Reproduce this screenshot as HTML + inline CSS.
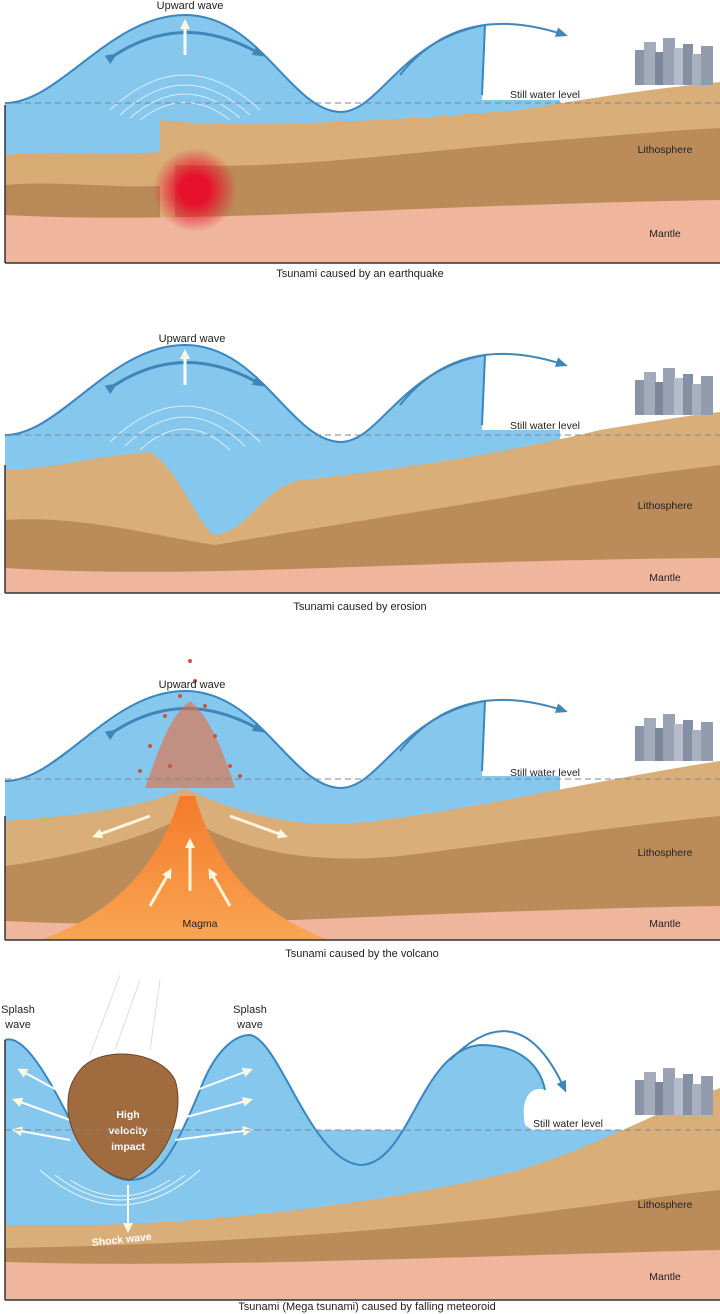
<!DOCTYPE html>
<html><head><meta charset="utf-8"><style>
html,body{margin:0;padding:0;background:#fff;}
svg{display:block;}
text{font-family:"Liberation Sans",sans-serif;}
</style></head><body>
<svg width="720" height="1314" viewBox="0 0 720 1314" xmlns="http://www.w3.org/2000/svg">
<defs>
<marker id="ah" markerUnits="userSpaceOnUse" markerWidth="12" markerHeight="12" refX="9" refY="6" orient="auto"><path d="M0,1 L12,6 L0,11 z" fill="#3f86b8"/></marker>
<marker id="wh" markerUnits="userSpaceOnUse" markerWidth="10" markerHeight="10" refX="7" refY="5" orient="auto"><path d="M0,0 L10,5 L0,10 z" fill="#fff8e0"/></marker>
<radialGradient id="quake"><stop offset="0" stop-color="#e8112b"/><stop offset="0.35" stop-color="#e8112b"/><stop offset="1" stop-color="#e8112b" stop-opacity="0"/></radialGradient>
<linearGradient id="lava" x1="0" y1="0" x2="0" y2="1"><stop offset="0" stop-color="#f47b2a"/><stop offset="1" stop-color="#f9a553"/></linearGradient>
<g id="city">
<rect x="0" y="12" width="10" height="35" fill="#8a94a8"/><rect x="9" y="4" width="12" height="43" fill="#a4acbc"/><rect x="20" y="14" width="9" height="33" fill="#7d879b"/><rect x="28" y="0" width="12" height="47" fill="#9aa3b4"/><rect x="39" y="10" width="10" height="37" fill="#b6bccb"/><rect x="48" y="6" width="10" height="41" fill="#8690a4"/><rect x="57" y="16" width="10" height="31" fill="#a9b0c0"/><rect x="66" y="8" width="12" height="39" fill="#939cae"/>
</g>
</defs>

<!-- PANEL 1 -->
<g>
<path d="M5,103 C60,103 110,15 185,15 C260,15 290,110 340,112 C380,112 400,40 485,25 L482,100 L560,100 L560,240 L5,240 Z" fill="#86c7ee"/>
<path d="M5,103 C60,103 110,15 185,15 C260,15 290,110 340,112 C380,112 400,40 485,25 L482,95" fill="none" stroke="#3a86c0" stroke-width="2"/>
<path d="M115,55 Q185,10 262,55" fill="none" stroke="#3f86b8" stroke-width="3" marker-start="url(#ah)" marker-end="url(#ah)"/>
<path d="M400,75 Q460,0 565,35" fill="none" stroke="#3f86b8" stroke-width="2" marker-end="url(#ah)"/>
<g fill="none" stroke="#fff" stroke-opacity="0.7"><path d="M110,110 Q185,40 260,110"/><path d="M120,115 Q185,55 250,115"/><path d="M130,118 Q185,70 240,118"/><path d="M140,120 Q185,85 230,120"/></g>
<path d="M185,55 L185,22" stroke="#fff" stroke-width="3" marker-end="url(#wh)"/>
<path d="M5,155 C60,150 120,158 175,150 L175,235 L5,235 Z" fill="#d8ab75"/>
<path d="M5,185 C60,180 120,190 175,185 L175,240 L5,240 Z" fill="#b98957"/>
<path d="M160,120 C240,130 400,120 520,110 C580,100 640,90 720,82 L720,220 L160,225 Z" fill="#d9ae79"/>
<path d="M175,165 C300,170 420,150 560,140 C620,135 680,130 720,128 L720,210 L175,220 Z" fill="#bb8b59"/>
<path d="M5,215 C200,225 400,205 720,200 L720,263 L5,263 Z" fill="#efb59d"/>
<circle cx="195" cy="190" r="42" fill="url(#quake)"/>
<line x1="5" y1="103" x2="720" y2="103" stroke="#7b8793" stroke-dasharray="6,4"/>
<use href="#city" x="635" y="38"/>
<path d="M5,263 L5,105 M5,263 L720,263" stroke="#333" stroke-width="1.5" fill="none"/>
<text x="190" y="9" font-size="11" text-anchor="middle" fill="#222">Upward wave</text>
<text x="545" y="98" font-size="10.5" text-anchor="middle" fill="#222">Still water level</text>
<text x="665" y="153" font-size="10.5" text-anchor="middle" fill="#222">Lithosphere</text>
<text x="665" y="237" font-size="10.5" text-anchor="middle" fill="#222">Mantle</text>
<text x="360" y="277" font-size="11" text-anchor="middle" fill="#222">Tsunami caused by an earthquake</text>
</g>

<!-- PANEL 2 -->
<g transform="translate(0,330)">
<path d="M5,105 C60,105 110,15 185,15 C260,15 290,110 340,112 C380,112 400,40 485,25 L482,100 L560,100 L560,240 L5,240 Z" fill="#86c7ee"/>
<path d="M5,105 C60,105 110,15 185,15 C260,15 290,110 340,112 C380,112 400,40 485,25 L482,95" fill="none" stroke="#3a86c0" stroke-width="2"/>
<path d="M115,55 Q185,10 262,55" fill="none" stroke="#3f86b8" stroke-width="3" marker-start="url(#ah)" marker-end="url(#ah)"/>
<path d="M400,75 Q460,0 565,35" fill="none" stroke="#3f86b8" stroke-width="2" marker-end="url(#ah)"/>
<g fill="none" stroke="#fff" stroke-opacity="0.7"><path d="M110,112 Q185,40 260,112"/><path d="M125,116 Q185,58 245,116"/><path d="M140,120 Q185,78 230,120"/></g>
<path d="M185,55 L185,22" stroke="#fff" stroke-width="3" marker-end="url(#wh)"/>
<path d="M5,140 C60,138 100,125 150,122 C180,140 200,200 215,205 C250,200 260,160 300,150 C400,140 520,120 600,100 C650,92 690,85 720,82 L720,263 L5,263 Z" fill="#d9ae79"/>
<path d="M5,190 C80,185 150,205 215,215 C300,200 400,185 520,165 C600,150 680,140 720,135 L720,263 L5,263 Z" fill="#bb8b59"/>
<path d="M5,238 C200,250 400,230 720,228 L720,263 L5,263 Z" fill="#efb59d"/>
<line x1="5" y1="105" x2="720" y2="105" stroke="#7b8793" stroke-dasharray="6,4"/>
<use href="#city" x="635" y="38"/>
<path d="M5,263 L5,135 M5,263 L720,263" stroke="#333" stroke-width="1.5" fill="none"/>
<text x="192" y="12" font-size="11" text-anchor="middle" fill="#222">Upward wave</text>
<text x="545" y="99" font-size="10.5" text-anchor="middle" fill="#222">Still water level</text>
<text x="665" y="179" font-size="10.5" text-anchor="middle" fill="#222">Lithosphere</text>
<text x="665" y="251" font-size="10.5" text-anchor="middle" fill="#222">Mantle</text>
<text x="360" y="280" font-size="11" text-anchor="middle" fill="#222">Tsunami caused by erosion</text>
</g>

<!-- PANEL 3 -->
<g transform="translate(0,676)">
<path d="M5,105 C60,105 110,15 185,15 C260,15 290,110 340,112 C380,112 400,40 485,25 L482,100 L560,100 L560,200 L5,200 Z" fill="#86c7ee"/>
<path d="M5,105 C60,105 110,15 185,15 C260,15 290,110 340,112 C380,112 400,40 485,25 L482,95" fill="none" stroke="#3a86c0" stroke-width="2"/>
<path d="M115,55 Q185,10 262,55" fill="none" stroke="#3f86b8" stroke-width="3" marker-start="url(#ah)" marker-end="url(#ah)"/>
<path d="M400,75 Q460,0 565,35" fill="none" stroke="#3f86b8" stroke-width="2" marker-end="url(#ah)"/>
<path d="M5,145 C80,140 150,130 185,112 C220,130 280,150 340,148 C450,140 560,110 720,85 L720,264 L5,264 Z" fill="#d9ae79"/>
<path d="M5,190 C80,180 150,160 185,140 C230,170 300,190 400,180 C520,165 620,150 720,140 L720,264 L5,264 Z" fill="#bb8b59"/>
<path d="M5,245 C200,255 400,235 720,230 L720,264 L5,264 Z" fill="#efb59d"/>
<path d="M40,264 C110,240 160,190 180,120 L195,120 C215,190 260,240 330,264 Z" fill="url(#lava)"/>
<path d="M145,112 C160,70 170,40 190,25 C210,40 225,80 235,112 Z" fill="#eb6a3c" opacity="0.6"/>
<g fill="#c9553a"><circle cx="165" cy="40" r="2"/><circle cx="205" cy="30" r="2"/><circle cx="180" cy="20" r="2"/><circle cx="215" cy="60" r="2"/><circle cx="150" cy="70" r="2"/><circle cx="230" cy="90" r="2"/><circle cx="170" cy="90" r="2"/><circle cx="195" cy="5" r="2"/><circle cx="190" cy="-15" r="2"/><circle cx="140" cy="95" r="2"/><circle cx="240" cy="100" r="2"/></g>
<g stroke="#fff4d8" stroke-width="3" marker-end="url(#wh)"><path d="M190,215 L190,165"/><path d="M150,230 L170,195"/><path d="M230,230 L210,195"/><path d="M150,140 L95,160"/><path d="M230,140 L285,160"/></g>
<line x1="5" y1="103" x2="720" y2="103" stroke="#7b8793" stroke-dasharray="6,4"/>
<use href="#city" x="635" y="38"/>
<path d="M5,264 L5,140 M5,264 L720,264" stroke="#333" stroke-width="1.5" fill="none"/>
<text x="192" y="12" font-size="11" text-anchor="middle" fill="#222">Upward wave</text>
<text x="545" y="100" font-size="10.5" text-anchor="middle" fill="#222">Still water level</text>
<text x="665" y="180" font-size="10.5" text-anchor="middle" fill="#222">Lithosphere</text>
<text x="665" y="251" font-size="10.5" text-anchor="middle" fill="#222">Mantle</text>
<text x="200" y="251" font-size="10.5" text-anchor="middle" fill="#222">Magma</text>
<text x="362" y="281" font-size="11" text-anchor="middle" fill="#222">Tsunami caused by the volcano</text>
</g>

<!-- PANEL 4 -->
<g>
<path d="M5,1130 L5,1240 L720,1240 L720,1130 Z" fill="#86c7ee"/>
<path d="M5,1040 C20,1035 40,1060 70,1120 C95,1165 110,1180 130,1180 C160,1180 175,1150 200,1090 C215,1050 235,1035 250,1035 C280,1040 310,1160 360,1165 C410,1165 420,1050 480,1045 C520,1045 540,1065 545,1090 C530,1085 520,1100 525,1125 L540,1135 L540,1150 L5,1220 Z" fill="#86c7ee"/>
<path d="M5,1040 C20,1035 40,1060 70,1120 C95,1165 110,1180 130,1180 C160,1180 175,1150 200,1090 C215,1050 235,1035 250,1035 C280,1040 310,1160 360,1165 C410,1165 420,1050 480,1045 C520,1045 540,1065 545,1090" fill="none" stroke="#3a86c0" stroke-width="2"/>
<path d="M450,1060 Q520,990 565,1090" fill="none" stroke="#3f86b8" stroke-width="2" marker-end="url(#ah)"/>
<path d="M5,1225 C200,1230 400,1200 520,1170 C600,1145 660,1110 720,1088 L720,1300 L5,1300 Z" fill="#d9ae79"/>
<path d="M5,1248 C200,1245 400,1230 520,1215 C600,1205 670,1195 720,1190 L720,1300 L5,1300 Z" fill="#bb8b59"/>
<path d="M5,1262 C200,1268 400,1258 720,1250 L720,1300 L5,1300 Z" fill="#efb59d"/>
<g fill="none" stroke="#fff" stroke-opacity="0.85"><path d="M40,1170 Q120,1240 200,1170"/><path d="M55,1175 Q120,1225 185,1175"/><path d="M70,1180 Q120,1212 170,1180"/></g>
<g stroke="#fff" stroke-width="2" marker-end="url(#wh)"><path d="M70,1120 L15,1100"/><path d="M70,1140 L15,1130"/><path d="M75,1100 L20,1070"/><path d="M175,1120 L250,1100"/><path d="M175,1140 L250,1130"/><path d="M170,1100 L250,1070"/><path d="M128,1185 L128,1230"/></g>
<g stroke="#ddd" fill="none"><path d="M90,1055 L120,975"/><path d="M115,1050 L140,980"/><path d="M150,1050 L160,980"/></g>
<path d="M80,1070 C100,1045 160,1050 175,1080 C185,1110 170,1160 130,1180 C95,1175 70,1140 68,1110 C67,1090 72,1080 80,1070 Z" fill="#a06b3f" stroke="#6d4424"/>
<text x="128" y="1118" font-size="10.5" font-weight="bold" text-anchor="middle" fill="#fff">High</text>
<text x="128" y="1134" font-size="10.5" font-weight="bold" text-anchor="middle" fill="#fff">velocity</text>
<text x="128" y="1150" font-size="10.5" font-weight="bold" text-anchor="middle" fill="#fff">impact</text>
<text x="122" y="1243" font-size="10.5" font-weight="bold" text-anchor="middle" fill="#fff" transform="rotate(-6 122 1243)">Shock wave</text>
<line x1="5" y1="1130" x2="720" y2="1130" stroke="#7b8793" stroke-dasharray="6,4"/>
<use href="#city" x="635" y="1068"/>
<path d="M5,1300 L5,1040 M5,1300 L720,1300" stroke="#333" stroke-width="1.5" fill="none"/>
<text x="18" y="1013" font-size="11" text-anchor="middle" fill="#222">Splash</text>
<text x="18" y="1028" font-size="11" text-anchor="middle" fill="#222">wave</text>
<text x="250" y="1013" font-size="11" text-anchor="middle" fill="#222">Splash</text>
<text x="250" y="1028" font-size="11" text-anchor="middle" fill="#222">wave</text>
<text x="568" y="1127" font-size="10.5" text-anchor="middle" fill="#222">Still water level</text>
<text x="665" y="1208" font-size="10.5" text-anchor="middle" fill="#222">Lithosphere</text>
<text x="665" y="1280" font-size="10.5" text-anchor="middle" fill="#222">Mantle</text>
<text x="367" y="1310" font-size="11" text-anchor="middle" fill="#222">Tsunami (Mega tsunami) caused by falling meteoroid</text>
</g>
</svg>
</body></html>
